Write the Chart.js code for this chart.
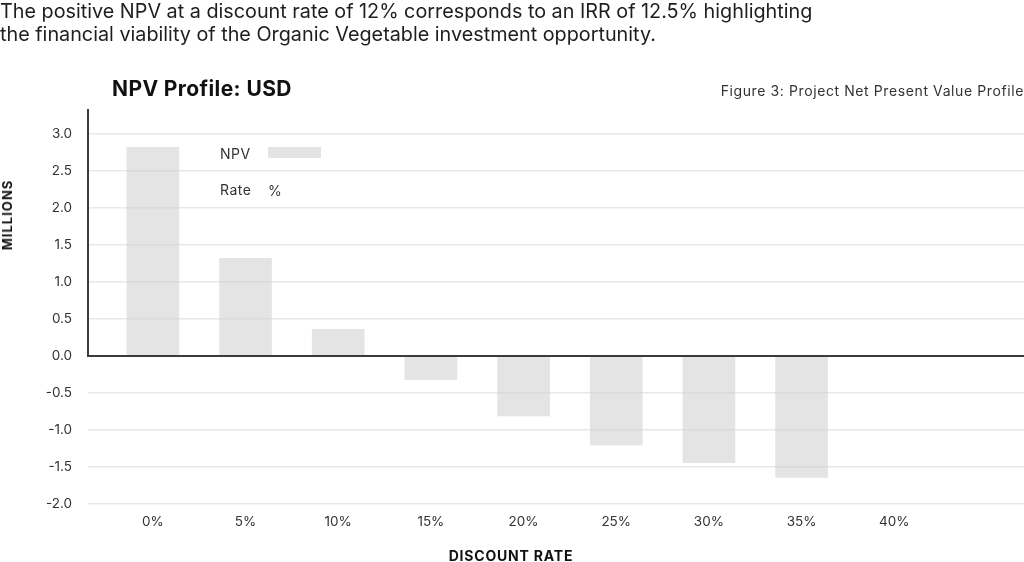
<!DOCTYPE html>
<html>
<head>
<meta charset="utf-8">
<script src="https://cdn.jsdelivr.net/npm/chart.js@4"></script>
<style>
  html, body { margin: 0; padding: 0; background: #fff; }
  body { width: 1024px; height: 562px; position: relative; overflow: hidden; font-family: Inter, "Noto Sans", sans-serif; color: #222; }
  .abs { position: absolute; white-space: nowrap; }
  #headline { left: 0; top: 0; font-size: 19.8px; line-height: 23px; color: #1e1e1e; }
  #title { left: 112px; top: 76px; font-size: 21px; font-weight: 700; color: #111; letter-spacing: 0.4px; }
  #figure { right: 0; top: 82px; font-size: 14px; color: #333; letter-spacing: 0.6px; }
  #ytitle { left: 7px; top: 215px; font-size: 13px; font-weight: 700; color: #111; transform: translate(-50%, -50%) rotate(-90deg); letter-spacing: 1px; }
  #xtitle { left: 511px; top: 555px; font-size: 14px; font-weight: 700; color: #111; transform: translate(-50%, -50%); letter-spacing: 0.8px; }
  .leg { font-size: 14px; color: #333; transform: translateY(-50%); letter-spacing: 0.5px; }
  .swatch { position: absolute; width: 53px; height: 11px; background: #e3e3e3; }
  canvas { position: absolute; left: 0; top: 0; }
</style>
</head>
<body>
<canvas id="npv-chart" width="1024" height="562"></canvas>
<div class="abs" id="headline">The positive NPV at a discount rate of 12% corresponds to an IRR of 12.5% highlighting<br>the financial viability of the Organic Vegetable investment opportunity.</div>
<div class="abs" id="title">NPV Profile: USD</div>
<div class="abs" id="figure">Figure 3: Project Net Present Value Profile</div>
<div class="abs" id="ytitle">MILLIONS</div>
<div class="abs" id="xtitle">DISCOUNT RATE</div>
<div class="abs leg" id="leg-npv" style="left:220px; top:153px;"></div>
<div class="swatch" style="left:268px; top:147px;"></div>
<div class="abs leg" id="leg-rate" style="left:220px; top:189px;"></div>
<div class="abs leg" style="left:268px; top:190px;">%</div>

<script>
// discount rates (%) and NPV in millions USD
const rates = [0, 5, 10, 15, 20, 25, 30, 35, 40]
const npv = [2.82, 1.32, 0.36, -0.32, -0.81, -1.20, -1.44, -1.64, null]
const yTicks = [-2, -1.5, -1, -0.5, 0, 0.5, 1, 1.5, 2, 2.5, 3]
const seriesLabels = ['NPV', 'Rate']

document.getElementById('leg-npv').textContent = seriesLabels[0]
document.getElementById('leg-rate').textContent = seriesLabels[1]

Chart.defaults.font.family = 'Inter, "Noto Sans", sans-serif'
Chart.defaults.color = '#333'

// left axis line (top to zero) and the dark zero line
const axisLines = {
  id: 'axisLines',
  afterDatasetsDraw(chart) {
    const ctx = chart.ctx
    const area = chart.chartArea
    const y0 = chart.scales.y.getPixelForValue(0)
    ctx.save()
    ctx.strokeStyle = '#3a3a3a'
    ctx.lineWidth = 2
    ctx.beginPath()
    ctx.moveTo(area.left, area.top - 25)
    ctx.lineTo(area.left, y0)
    ctx.moveTo(area.left - 1, y0)
    ctx.lineTo(area.right, y0)
    ctx.stroke()
    ctx.restore()
  }
}

const npvChart = document.getElementById('npv-chart')

new Chart(npvChart, {
  type: 'bar',
  data: {
    datasets: [
      {
        label: seriesLabels[0],
        data: rates.map(function(r, i){ return { x: r, y: npv[i] } }),
        backgroundColor: 'rgba(205, 205, 205, 0.55)',
        borderWidth: 0,
        barThickness: 52
      }
    ]
  },
  plugins: [axisLines],
  options: {
    responsive: false,
    animation: false,
    layout: { padding: { top: 134, left: 0, right: 0, bottom: 0 } },
    plugins: {
      legend: { display: false },
      tooltip: { enabled: false }
    },
    scales: {
      x: {
        type: 'linear',
        offset: false,
        min: -3.5,
        max: 47,
        grid: { display: false, drawTicks: false },
        border: { display: false },
        afterFit: function(scale){ scale.height = 58 },
        afterBuildTicks: function(scale){
          scale.ticks = rates.map(function(r){ return { value: r } })
        },
        ticks: {
          padding: 10,
          autoSkip: false,
          maxRotation: 0,
          font: { size: 13.5 },
          color: '#333',
          callback: function(value){ return value + '%' }
        }
      },
      y: {
        min: -2,
        max: 3,
        grid: { color: '#e8e8e8', lineWidth: 1.5, drawTicks: false },
        border: { display: false },
        afterFit: function(scale){ scale.width = 88 },
        afterBuildTicks: function(scale){
          scale.ticks = yTicks.map(function(v){ return { value: v } })
        },
        ticks: {
          padding: 16,
          font: { size: 13.5 },
          color: '#333',
          callback: function(value){ return value.toFixed(1) }
        }
      }
    }
  }
});
</script>
</body>
</html>
